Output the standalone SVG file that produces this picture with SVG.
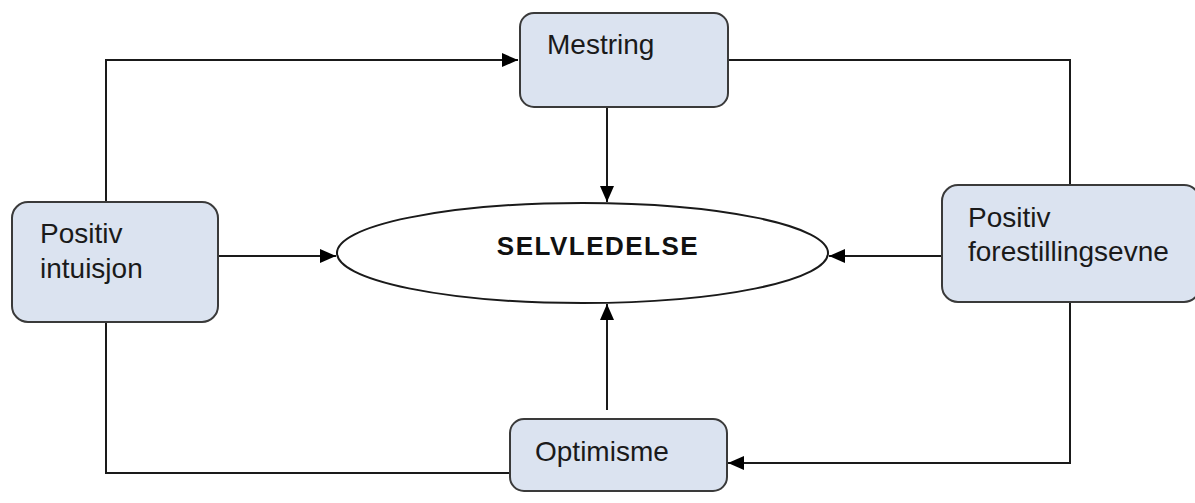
<svg xmlns="http://www.w3.org/2000/svg" width="1195" height="503" viewBox="0 0 1195 503">
<defs>
<style>
.box{fill:#dbe3f0;stroke:#3a3a3a;stroke-width:2}
.lbl{font-family:"Liberation Sans",Arial,sans-serif;font-size:28px;fill:#1a1a1a}
.main{font-family:"Liberation Sans",Arial,sans-serif;font-size:26px;font-weight:bold;fill:#111;letter-spacing:1.5px}
.ln{fill:none;stroke:#1a1a1a;stroke-width:2}
</style>
<marker id="ah" viewBox="0 0 16 14" refX="16" refY="7" markerWidth="16" markerHeight="14" markerUnits="userSpaceOnUse" orient="auto">
<path d="M0,0 L16,7 L0,14 Z" fill="#000"/>
</marker>
</defs>
<rect width="1195" height="503" fill="#fff"/>
<g id="connectors">
<polyline class="ln" points="106,202 106,60 518,60" marker-end="url(#ah)"/>
<line class="ln" x1="607" y1="107" x2="607" y2="202" marker-end="url(#ah)"/>
<polyline class="ln" points="728,60 1070,60 1070,185"/>
<line class="ln" x1="942" y1="256" x2="829" y2="256" marker-end="url(#ah)"/>
<polyline class="ln" points="1070,302 1070,463 728,463" marker-end="url(#ah)"/>
<line class="ln" x1="607" y1="410" x2="607" y2="304" marker-end="url(#ah)"/>
<polyline class="ln" points="106,322 106,473 510,473"/>
<line class="ln" x1="218" y1="256" x2="336" y2="256" marker-end="url(#ah)"/>
</g>
<g id="selvledelse">
<ellipse cx="582.5" cy="253" rx="245.5" ry="50" fill="#fff" stroke="#1a1a1a" stroke-width="2"/>
<text class="main" x="598" y="255" text-anchor="middle">SELVLEDELSE</text>
</g>
<g id="mestring">
<rect class="box" x="520" y="13" width="208" height="94" rx="14"/>
<text class="lbl" x="547" y="54">Mestring</text>
</g>
<g id="positiv-intuisjon">
<rect class="box" x="12" y="202" width="206" height="120" rx="16"/>
<text class="lbl" x="40" y="243">Positiv</text>
<text class="lbl" x="40" y="278">intuisjon</text>
</g>
<g id="positiv-forestillingsevne">
<rect class="box" x="942" y="185" width="258" height="117" rx="16"/>
<text class="lbl" x="968" y="227">Positiv</text>
<text class="lbl" x="968" y="261">forestillingsevne</text>
</g>
<g id="optimisme">
<rect class="box" x="510" y="419" width="217" height="72" rx="14"/>
<text class="lbl" x="535" y="461">Optimisme</text>
</g>
</svg>
